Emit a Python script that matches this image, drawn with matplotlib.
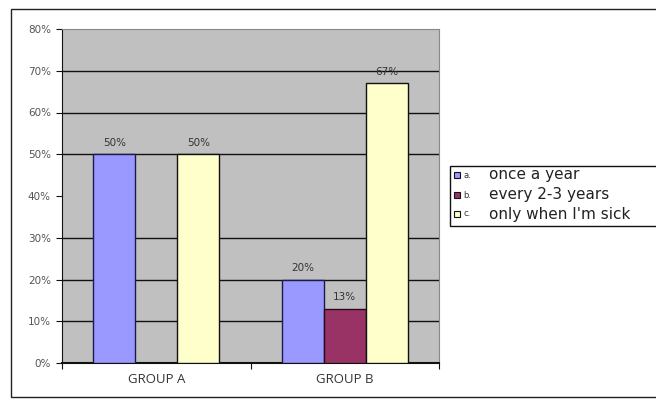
import matplotlib
matplotlib.use("Agg")
import matplotlib.pyplot as plt
from matplotlib.patches import Rectangle
import numpy as np

categories = ["GROUP A", "GROUP B"]
series_names = ["once a year", "every 2-3 years", "only when I'm sick"]
series_prefix = ["a.", "b.", "c."]
values = {
    "once a year": [50, 20],
    "every 2-3 years": [0, 13],
    "only when I'm sick": [50, 67],
}
colors = ["#9999FF", "#993366", "#FFFFCC"]
edge_colors = ["#1a1a4d", "#2a0a1a", "#111111"]
yticks = [0, 10, 20, 30, 40, 50, 60, 70, 80]
ytick_labels = ["0%", "10%", "20%", "30%", "40%", "50%", "60%", "70%", "80%"]
grid_levels = [10, 20, 30, 50, 60, 70]

W, H = 656, 399
fig = plt.figure(figsize=(W / 100, H / 100), dpi=100)
fig.patch.set_facecolor("white")

# outer chart frame
fig.patches.append(Rectangle((11 / W, 2 / H), (W - 10) / W, (H - 11) / H,
                             transform=fig.transFigure, fill=False,
                             edgecolor="#222222", lw=1.0))

ax = fig.add_axes([62 / W, (H - 363) / H, (439 - 62) / W, (363 - 29) / H])
ax.set_facecolor("#C0C0C0")

x = np.arange(len(categories))
bw = 0.223
for i, name in enumerate(series_names):
    vals = values[name]
    xs = x + (i - 1) * bw
    for xi, v in zip(xs, vals):
        if v > 0:
            ax.bar(xi, v, width=bw, color=colors[i], edgecolor=edge_colors[i],
                   linewidth=1.0, zorder=3)
            ax.text(xi, v + 1.6, f"{v}%", ha="center", va="bottom",
                    fontsize=7.5, color="#333333", zorder=4)

for g in grid_levels:
    ax.axhline(g, color="#111111", lw=1.0, zorder=1)

ax.set_xlim(-0.5, 1.5)
ax.set_ylim(0, 80)
ax.set_yticks(yticks)
ax.set_yticklabels(ytick_labels, fontsize=7.5, color="#555555")
ax.set_xticks([-0.5, 0.5, 1.5])
ax.set_xticklabels([])
ax.set_xticks(x, minor=True)
ax.set_xticklabels(categories, minor=True, fontsize=9.5, color="#333333",
                   family="Open Sans")
ax.tick_params(axis="x", which="minor", length=0, pad=7)
ax.tick_params(axis="x", which="major", length=4, direction="out", color="#111111")
ax.tick_params(axis="y", length=4, direction="out", color="#111111", pad=4)

for s in ["top", "right"]:
    ax.spines[s].set_color("#888888")
    ax.spines[s].set_linewidth(0.8)
ax.spines["left"].set_color("#111111")
ax.spines["bottom"].set_color("#111111")
ax.spines["bottom"].set_linewidth(1.5)

# legend (manual, box partially cut off at right)
lx0, ly0, lx1, ly1 = 450, 166, 660, 226
fig.patches.append(Rectangle((lx0 / W, (H - ly1) / H), (lx1 - lx0) / W, (ly1 - ly0) / H,
                             transform=fig.transFigure, facecolor="white",
                             edgecolor="#111111", lw=1.0, zorder=5))
item_y = [175, 195, 214]
for i, name in enumerate(series_names):
    yy = item_y[i]
    fig.patches.append(Rectangle((454 / W, (H - yy - 3) / H), 6 / W, 6 / H,
                                 transform=fig.transFigure, facecolor=colors[i],
                                 edgecolor="#111111", lw=0.8, zorder=6))
    fig.text(463 / W, (H - yy) / H, series_prefix[i], fontsize=6, va="center",
             ha="left", color="#333333", zorder=6)
    fig.text(489 / W, (H - yy) / H, name, fontsize=11, va="center", ha="left",
             color="#222222", family="DejaVu Sans", zorder=6)

fig.savefig("out.png", dpi=100)
